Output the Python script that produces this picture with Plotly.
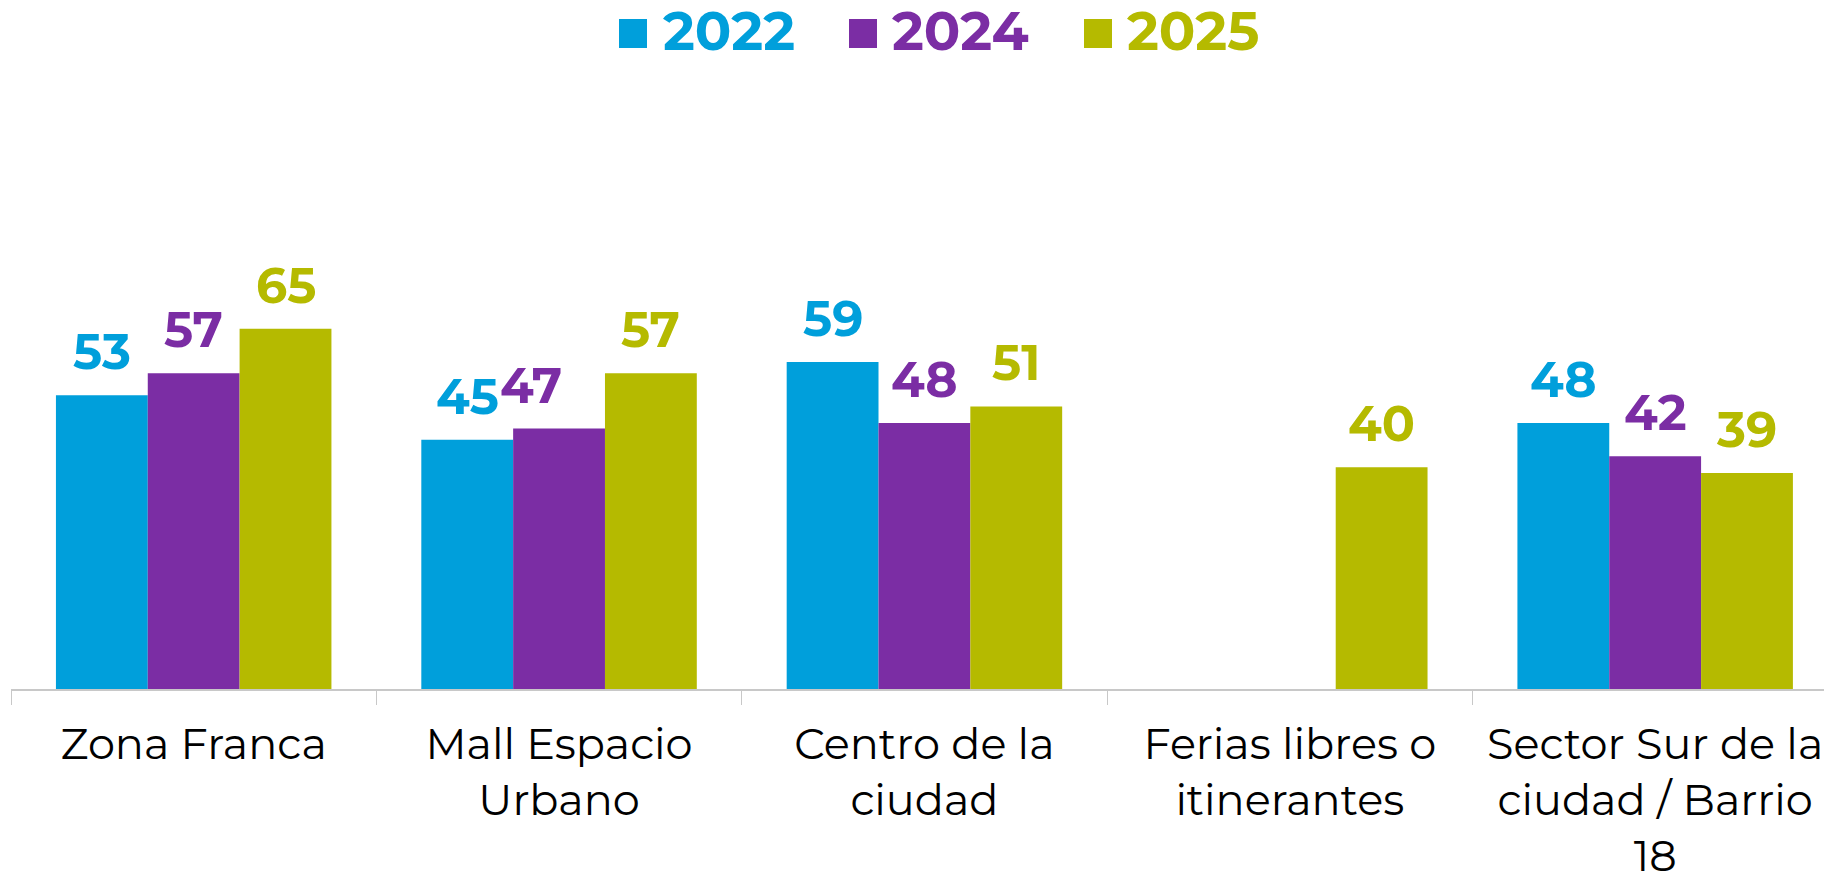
import plotly.graph_objects as go

categories = ["Zona Franca", "Mall Espacio<br>Urbano", "Centro de la<br>ciudad",
              "Ferias libres o<br>itinerantes", "Sector Sur de la<br>ciudad / Barrio<br>18"]
years = ["2022", "2024", "2025"]
v2022 = [53, 45, 59, None, 48]
v2024 = [57, 47, 48, None, 42]
v2025 = [65, 57, 51, 40, 39]
colors = ["#009FDB", "#7B2DA4", "#B5BA00"]

FONT = "Montserrat, 'Open Sans', sans-serif"
BARGAP = 0.246
CAT_PX = 1821 / 4.984
BAR_PX = CAT_PX * (1 - BARGAP) / 3
# (series index, category index) -> extra horizontal nudge of the value label
label_nudge = {(1, 1): -28}

fig = go.Figure()
for i, (name, vals, col) in enumerate(zip(years, [v2022, v2024, v2025], colors)):
    fig.add_trace(go.Bar(
        x=categories, y=vals, name=name,
        marker=dict(color=col, line=dict(width=0)),
        showlegend=False,
    ))
    # value labels above each bar
    for j, (cat, v) in enumerate(zip(categories, vals)):
        if v is None:
            continue
        fig.add_annotation(
            x=cat, y=v, text=f"<b>{v}</b>", showarrow=False,
            xanchor="center", yanchor="bottom",
            xshift=(i - 1) * BAR_PX + label_nudge.get((i, j), 0), yshift=12,
            font=dict(family=FONT, size=49, color=col),
        )

# legend drawn as coloured squares + text
sq_x = [619, 849, 1084]
txt_x = [661, 890, 1125]
for name, col, sx, tx in zip(years, colors, sq_x, txt_x):
    fig.add_shape(
        type="rect", xref="paper", yref="paper",
        x0=(sx - 11) / 1821, x1=(sx + 28 - 11) / 1821,
        y0=1 + (100 - 48) / 589, y1=1 + (100 - 19) / 589,
        fillcolor=col, line=dict(width=0),
    )
    fig.add_annotation(
        xref="paper", yref="paper", x=(tx - 11) / 1821, y=1 + (100 - 31) / 589,
        xanchor="left", yanchor="middle",
        text=f"<b>{name}</b>", showarrow=False,
        font=dict(family=FONT, size=54, color=col),
    )

# page body has an 8px margin, so the figure is sized/offset to compensate
fig.update_layout(
    width=1824, height=868,
    margin=dict(l=3, r=0, t=92, b=187, autoexpand=False),
    plot_bgcolor="white", paper_bgcolor="white",
    barmode="group", bargap=BARGAP, bargroupgap=0,
    xaxis=dict(range=[-0.5, 4.484], showline=True, linecolor="#C8C8C8", linewidth=1.5,
               ticks="outside", tickson="boundaries", ticklen=14, tickcolor="#C8C8C8",
               tickfont=dict(family=FONT, size=43, color="black"), ticklabelstandoff=17,
               automargin=False),
    yaxis=dict(range=[0, 106.3], visible=False, automargin=False),
)

fig.write_html("out.html")
